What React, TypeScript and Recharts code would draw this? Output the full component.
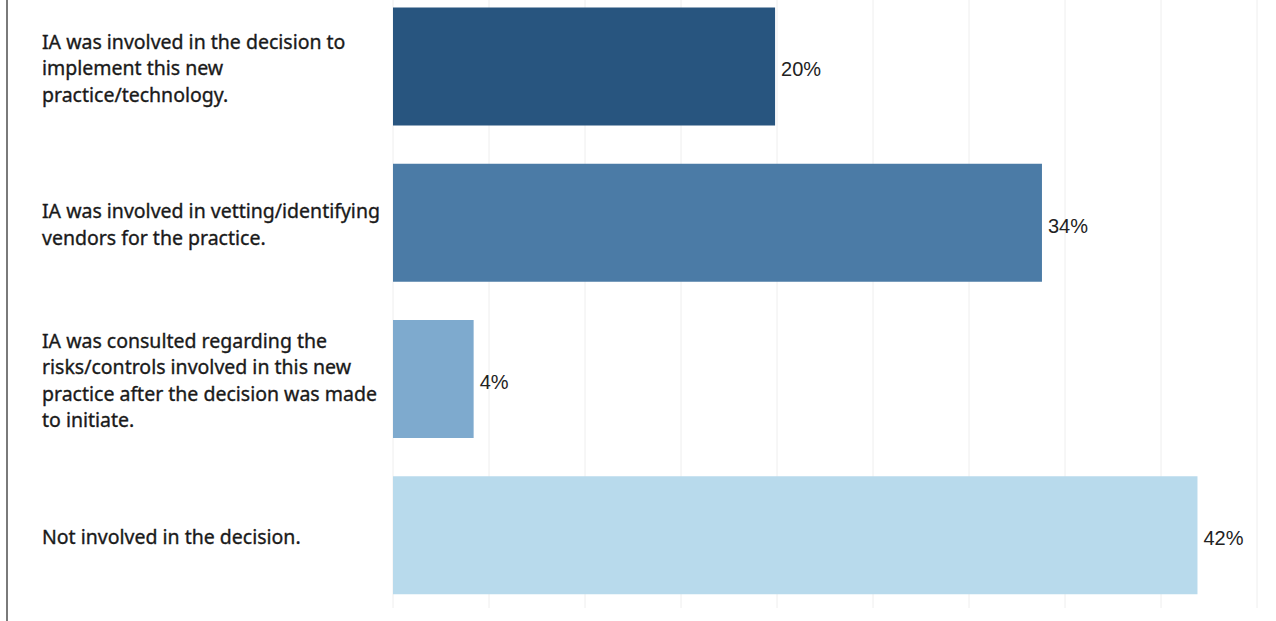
import React from "react";
import { BarChart, Bar, XAxis, YAxis, CartesianGrid, Cell, LabelList } from "recharts";

const categories = [
  "IA was involved in the decision to implement this new practice/technology.",
  "IA was involved in vetting/identifying vendors for the practice.",
  "IA was consulted regarding the risks/controls involved in this new practice after the decision was made to initiate.",
  "Not involved in the decision.",
];

const labelLines = [
  ["IA was involved in the decision to", "implement this new", "practice/technology."],
  ["IA was involved in vetting/identifying", "vendors for the practice."],
  ["IA was consulted regarding the", "risks/controls involved in this new", "practice after the decision was made", "to initiate."],
  ["Not involved in the decision."],
];

const shares = [19.9, 33.8, 4.2, 41.9];

const barColors = ["#28557F", "#4B7BA6", "#7EAACE", "#B8DAEC"];

const gridTicks = [0, 5, 10, 15, 20, 25, 30, 35, 40, 45];

const data = categories.map((c, i) => ({ category: c, share: shares[i] }));

const CategoryTick = (props: any) => {
  const { y, payload, index } = props;
  const idx = typeof index === "number" ? index : categories.indexOf(payload.value);
  const lines = labelLines[idx] || [String(payload.value)];
  const n = lines.length;
  return (
    <g>
      {lines.map((ln: string, i: number) => (
        <text
          key={i}
          x={42}
          y={y + 1.5 + (i - (n - 1) / 2) * 26.5}
          textAnchor="start"
          dominantBaseline="central"
          fill="#1a1a1a"
          stroke="#1a1a1a"
          strokeWidth={0.35}
          fontFamily="'Noto Sans', sans-serif"
          fontSize={19.5}
        >
          {ln}
        </text>
      ))}
    </g>
  );
};

export default function App() {
  return (
    <div
      style={{
        position: "absolute",
        left: 0,
        top: 0,
        width: 1276,
        height: 621,
        overflow: "hidden",
        background: "#ffffff",
      }}
    >
      <div
        style={{
          position: "absolute",
          left: 6,
          top: 0,
          width: 2,
          height: 621,
          background: "#7a7a7a",
        }}
      />
      <div style={{ position: "absolute", left: 0, top: -20 }}>
        <BarChart
          width={1276}
          height={641}
          data={data}
          layout="vertical"
          margin={{ top: 8, right: 19, bottom: 13, left: 0 }}
          barCategoryGap="12.4%"
        >
          <CartesianGrid horizontal={false} vertical={true} stroke="#eeeeee" strokeWidth={1} />
          <XAxis
            type="number"
            domain={[0, 45]}
            ticks={gridTicks}
            hide
            allowDataOverflow
          />
          <YAxis
            type="category"
            dataKey="category"
            width={393}
            axisLine={false}
            tickLine={false}
            tick={<CategoryTick />}
            interval={0}
            padding={{ top: 0, bottom: -5 }}
          />
          <Bar dataKey="share" isAnimationActive={false}>
            {data.map((d, i) => (
              <Cell key={i} fill={barColors[i]} />
            ))}
            <LabelList
              dataKey="share"
              position="right"
              offset={6}
              dy={3}
              formatter={(v: any) => `${Math.round(Number(v))}%`}
              fill="#222222"
              fontFamily="'Liberation Sans', Arial, sans-serif"
              fontSize={20}
            />
          </Bar>
        </BarChart>
      </div>
    </div>
  );
}
